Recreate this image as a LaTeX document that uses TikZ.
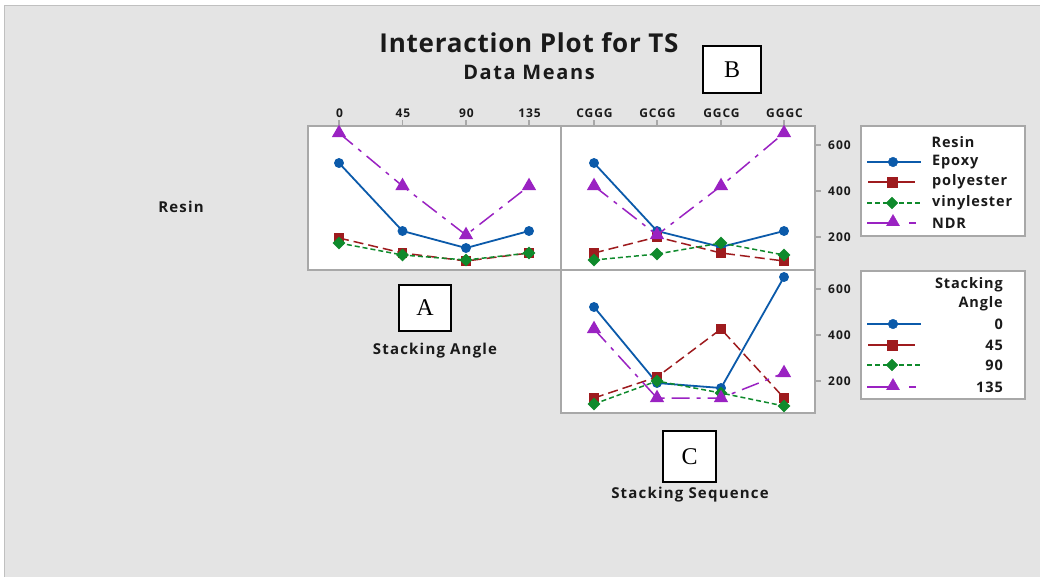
\documentclass[tikz,border=0pt]{standalone}
\usepackage{fontspec}
\setmainfont{Open Sans}
\newfontfamily\titlefont[LetterSpace=3]{Open Sans}
\newfontfamily\labfont[LetterSpace=8]{Open Sans}
\newfontfamily\legfont[LetterSpace=6]{Open Sans}
\newfontfamily\tickfont[LetterSpace=8]{Open Sans}
\newfontfamily\serifbox{Liberation Serif}
\usetikzlibrary{plotmarks}
\definecolor{bg}{HTML}{E4E4E4}
\definecolor{framegray}{HTML}{C0C0C0}
\definecolor{panelgray}{HTML}{A8A8A8}
\definecolor{cblue}{HTML}{0B5AAA}
\definecolor{cred}{HTML}{9E1B1E}
\definecolor{cgreen}{HTML}{0F8A2C}
\definecolor{cpurple}{HTML}{9A22C2}
\definecolor{txt}{HTML}{1A1A1A}
\tikzset{
  panel/.style={fill=white, draw=panelgray, line width=1.6},
  tick/.style={draw=panelgray, line width=1.2},
  ticklab/.style={font=\tickfont\bfseries\fontsize{12}{13}\selectfont, text=txt, inner sep=0},
  axlab/.style={font=\labfont\bfseries\fontsize{15}{16}\selectfont, text=txt, inner sep=0},
  legtxt/.style={font=\legfont\bfseries\fontsize{14.5}{16}\selectfont, text=txt, inner sep=0},
  letterbox/.style={fill=white, draw=black, line width=1.6, minimum width=52, minimum height=46,
    font=\serifbox\fontsize{24}{24}\selectfont, inner sep=0},
  sepoxy/.style={draw=cblue, line width=1.8},
  spoly/.style={draw=cred, line width=1.5, dash pattern=on 10pt off 5pt},
  svinyl/.style={draw=cgreen, line width=1.5, dash pattern=on 5pt off 3pt},
  sndr/.style={draw=cpurple, line width=1.5, dash pattern=on 18pt off 7pt on 4pt off 7pt},
  mepoxy/.style={mark=*, mark size=4, mark options={solid, fill=cblue, draw=cblue}},
  mpoly/.style={mark=square*, mark size=4.2, mark options={solid, fill=cred, draw=cred}},
  mvinyl/.style={mark=square*, mark size=3.7, mark options={solid, rotate=45, fill=cgreen, draw=cgreen}},
  mndr/.style={mark=triangle*, mark size=6.8, mark options={solid, fill=cpurple, draw=cpurple}},
  legline/.style={line width=2},
}
\begin{document}
\begin{tikzpicture}[x=1pt, y=-1pt]
\useasboundingbox (0,0) rectangle (1040,576);
\fill[white] (0,0) rectangle (1040,576);
\filldraw[fill=bg, draw=framegray, line width=1.2] (4.5,5.5) rectangle (1046,582);

% titles
\node[font=\titlefont\bfseries\fontsize{26}{28}\selectfont, text=txt, inner sep=0] (title) at (529,43) {Interaction Plot for TS};
\node[font=\labfont\bfseries\fontsize{20}{22}\selectfont, text=txt, inner sep=0] (subtitle) at (529,72) {Data Means};

% panels
\draw[panel] (308,126) rectangle (561,270);
\draw[panel] (561,126) rectangle (815,270);
\draw[panel] (561,270) rectangle (815,413);

% top axis ticks and labels
\foreach \x/\l [count=\i] in {339/0, 402.5/45, 466/90, 529/135} {
  \draw[tick] (\x,120) -- (\x,126);
  \node[ticklab] (ta\i) at (\x+0.5,113) {\l};
}
\foreach \x/\l [count=\i] in {594/CGGG, 657/GCGG, 721/GGCG, 784/GGGC} {
  \draw[tick] (\x,120) -- (\x,126);
  \node[ticklab] (tb\i) at (\x+0.5,113) {\l};
}
% right axis ticks and labels
\foreach \y/\l [count=\i] in {145/600, 191/400, 237/200} {
  \draw[tick] (815,\y) -- (821,\y);
  \node[ticklab, anchor=west] (rb\i) at (828,\y) {\l};
}
\foreach \y/\l [count=\i] in {289/600, 335/400, 381/200} {
  \draw[tick] (815,\y) -- (821,\y);
  \node[ticklab, anchor=west] (rc\i) at (828,\y) {\l};
}

% panel A: resin means across stacking angle
\draw[sepoxy, mepoxy] plot coordinates {(339,163) (402.5,231) (466,248) (529,231)};
\draw[spoly, mpoly] plot coordinates {(339,238) (402.5,253) (466,261) (529,253)};
\draw[svinyl, mvinyl] plot coordinates {(339,243) (402.5,255) (466,260) (529,253)};
\draw[sndr, mndr] plot coordinates {(339,133) (402.5,186) (466,235) (529,186)};

% panel B: resin means across stacking sequence
\draw[sepoxy, mepoxy] plot coordinates {(594,163) (657,231) (721,247) (784,231)};
\draw[spoly, mpoly] plot coordinates {(594,253) (657,237) (721,253) (784,261)};
\draw[svinyl, mvinyl] plot coordinates {(594,260) (657,254) (721,243) (784,255)};
\draw[sndr, mndr] plot coordinates {(594,186) (657,235) (721,186) (784,133)};

% panel C: stacking angle means across stacking sequence
\draw[sepoxy, mepoxy] plot coordinates {(594,307) (657,383) (721,388) (784,277)};
\draw[spoly, mpoly] plot coordinates {(594,398) (657,377) (721,329) (784,398)};
\draw[svinyl, mvinyl] plot coordinates {(594,404) (657,381) (721,393) (784,406)};
\draw[sndr, mndr] plot coordinates {(594,329) (657,398) (721,398) (784,373)};

% side labels
\node[axlab] (resin) at (181,207) {Resin};
\node[axlab] (angle) at (435,351) {Stacking Angle};
\node[axlab] (seq) at (690,495) {Stacking Sequence};

% letter boxes
\node[letterbox] (boxA) at (425,308) {A};
\node[letterbox, minimum width=58, minimum height=47] (boxB) at (732,69.5) {B};
\node[letterbox, minimum width=53, minimum height=51] (boxC) at (689.5,456.5) {C};

% legend: resin
\draw[fill=white, draw=panelgray, line width=1.6] (861,126) rectangle (1025,236);
\node[legtxt] (lr) at (953,142) {Resin};
\draw[sepoxy, legline] (867,162) -- (921,162);
\draw[mepoxy, mark size=4.8] plot coordinates {(893,162)};
\node[legtxt, anchor=west] (l1) at (932,162) {Epoxy};
\draw[spoly, legline, solid] (868,182) -- (915,182);
\draw[mpoly, mark size=5] plot coordinates {(892,182)};
\node[legtxt, anchor=west] (l2) at (932,182) {polyester};
\draw[svinyl, legline] (867,203) -- (921,203);
\draw[mvinyl, mark size=4.2] plot coordinates {(892,203)};
\node[legtxt, anchor=west] (l3) at (932,203) {vinylester};
\draw[cpurple, legline] (867,223) -- (893,223) (909,223) -- (916,223);
\draw[mndr, mark size=7.5] plot coordinates {(893,222)};
\node[legtxt, anchor=west] (l4) at (932,223) {NDR};

% legend: stacking angle
\draw[fill=white, draw=panelgray, line width=1.6] (861,271) rectangle (1025,399);
\node[legtxt, anchor=east] (ls1) at (1003,285) {Stacking};
\node[legtxt, anchor=east] (ls2) at (1003,304) {Angle};
\draw[sepoxy, legline] (867,324) -- (921,324);
\draw[mepoxy, mark size=4.8] plot coordinates {(893,324)};
\node[legtxt, anchor=east] (k1) at (1003,324) {0};
\draw[spoly, legline, solid] (868,345) -- (915,345);
\draw[mpoly, mark size=5] plot coordinates {(892,345)};
\node[legtxt, anchor=east] (k2) at (1003,345) {45};
\draw[svinyl, legline] (867,365) -- (921,365);
\draw[mvinyl, mark size=4.2] plot coordinates {(892,365)};
\node[legtxt, anchor=east] (k3) at (1003,365) {90};
\draw[cpurple, legline] (867,387) -- (893,387) (909,387) -- (916,387);
\draw[mndr, mark size=7.5] plot coordinates {(893,386)};
\node[legtxt, anchor=east] (k4) at (1003,387) {135};
\end{tikzpicture}
\end{document}
